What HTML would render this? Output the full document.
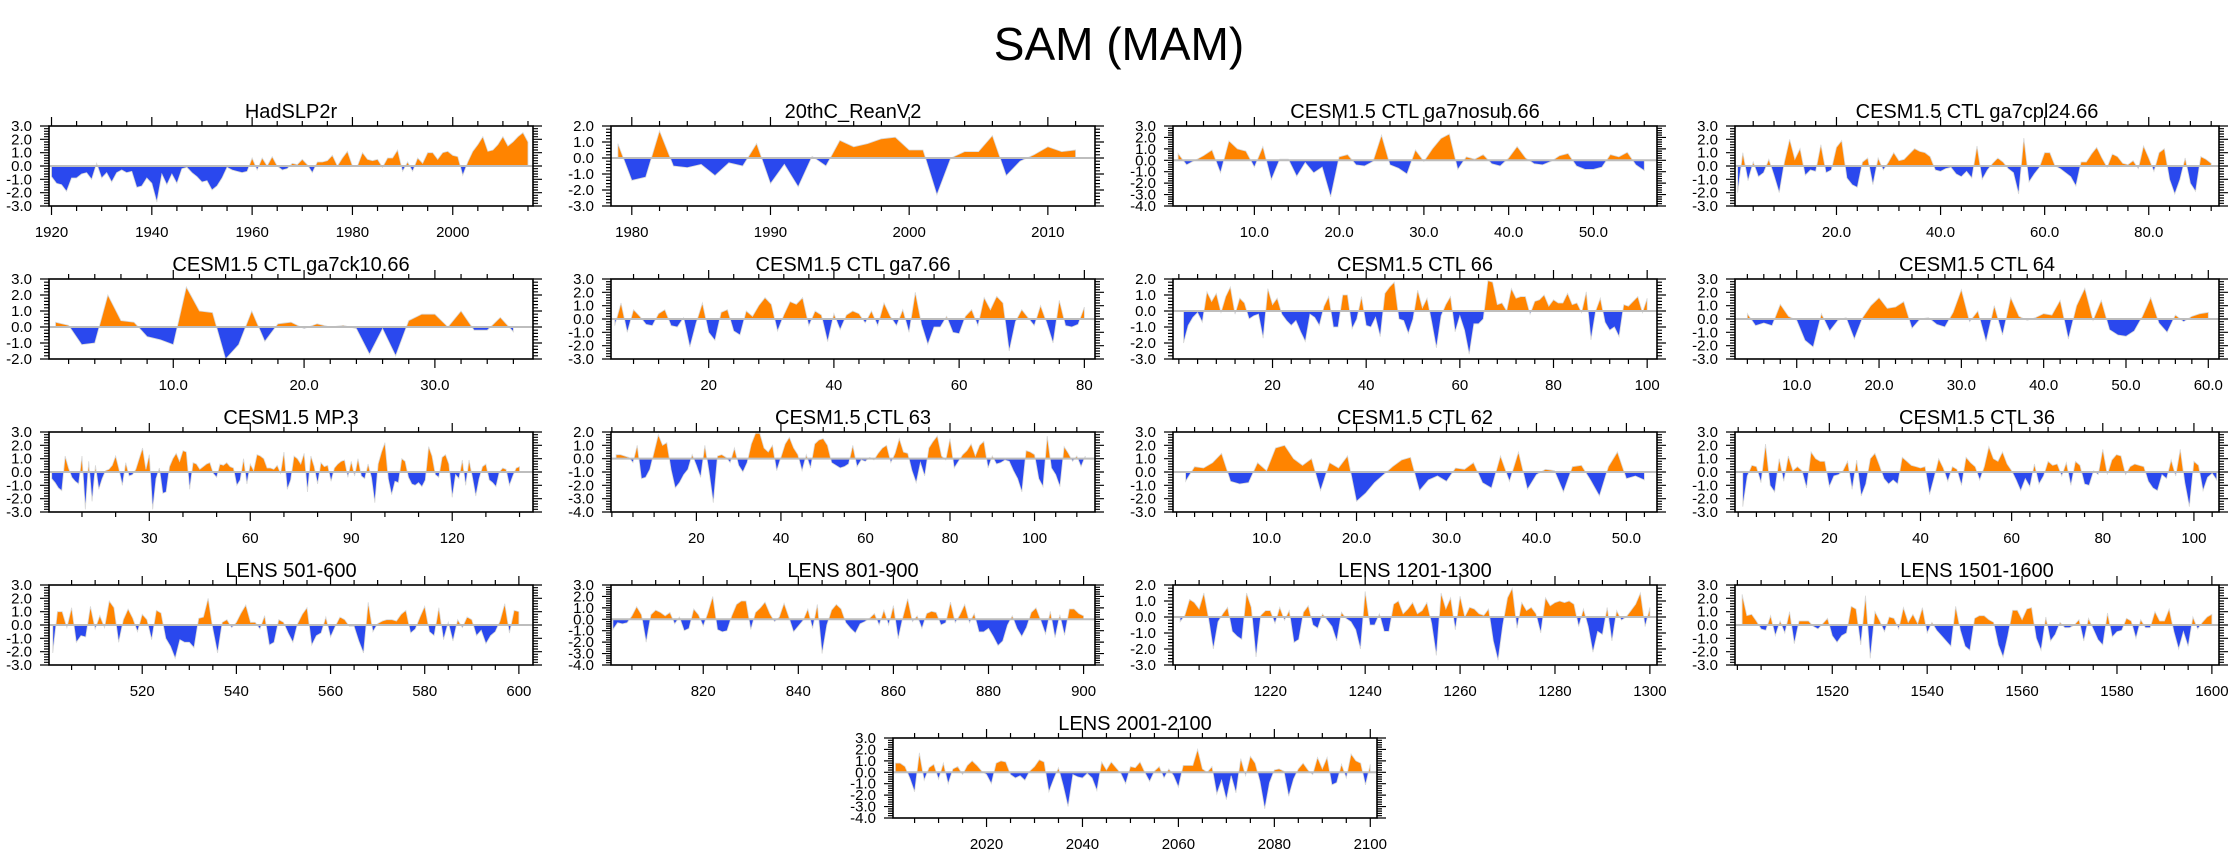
<!DOCTYPE html>
<html><head><meta charset="utf-8"><title>SAM (MAM)</title>
<style>
html,body{margin:0;padding:0;background:#fff;}
svg{display:block;font-family:"Liberation Sans",Arial,sans-serif;}
</style></head>
<body>
<svg id="chart" xmlns="http://www.w3.org/2000/svg" width="2238" height="856" viewBox="0 0 2238 856">
<rect x="0" y="0" width="2238" height="856" fill="#fff"/>
<text x="1119" y="60" text-anchor="middle" font-size="46" fill="#000">SAM (MAM)</text>
<g id="panels"></g>
</svg>
<script>
const titles=["HadSLP2r","20thC_ReanV2","CESM1.5 CTL ga7nosub.66","CESM1.5 CTL ga7cpl24.66","CESM1.5 CTL ga7ck10.66","CESM1.5 CTL ga7.66","CESM1.5 CTL 66","CESM1.5 CTL 64","CESM1.5 MP.3","CESM1.5 CTL 63","CESM1.5 CTL 62","CESM1.5 CTL 36","LENS 501-600","LENS 801-900","LENS 1201-1300","LENS 1501-1600","LENS 2001-2100"];
const startX=[1920,1979,1,1,1,5,1,4,1,1,1,1,501,801,1201,1501,2001];
const xDomains=[[1919.5,2016],[1978.5,2013.4],[0.4,57.5],[0.5,93.5],[0.5,37.5],[4.4,81.7],[-1.25,102.1],[2.5,61.3],[0.2,144],[-0.2,114.3],[-0.4,53.4],[-0.7,105.5],[500.2,603],[800.6,902.4],[1199.5,1301.5],[1499.5,1601.5],[2000.5,2101.4]];
const yRanges=[[-3,3],[-3,2],[-4,3],[-3,3],[-2,3],[-3,3],[-3,2],[-3,3],[-3,3],[-4,2],[-3,3],[-3,3],[-3,3],[-4,3],[-3,2],[-3,3],[-4,3]];
const xMajorTicks=[[1920,1940,1960,1980,2000],[1980,1990,2000,2010],[10,20,30,40,50],[20,40,60,80],[10,20,30],[20,40,60,80],[20,40,60,80,100],[10,20,30,40,50,60],[30,60,90,120],[20,40,60,80,100],[10,20,30,40,50],[20,40,60,80,100],[520,540,560,580,600],[820,840,860,880,900],[1220,1240,1260,1280,1300],[1520,1540,1560,1580,1600],[2020,2040,2060,2080,2100]];
const xMinorStep=[5,2,2,4,2,4,4,2,10,5,2,4,5,5,5,5,5];
const xLabelDecimals=[0,0,1,1,1,0,0,1,0,0,1,0,0,0,0,0,0];

const s1=[-0.8,-1.3,-1.4,-1.9,-0.9,-0.9,-0.6,-0.5,-1.0,0.2,-0.9,-0.5,-1.2,-0.5,-0.3,-0.5,-0.4,-1.6,-1.5,-0.9,-1.3,-2.7,-0.6,-1.4,-0.6,-1.3,-0.2,-0.1,-0.5,-0.8,-1.2,-1.1,-1.8,-1.5,-0.9,-0.1,-0.3,-0.4,-0.5,-0.4,0.6,-0.3,0.6,0.0,0.7,0.0,-0.3,-0.2,0.2,0.1,0.5,0.1,-0.5,0.3,0.3,0.4,0.8,0.0,0.6,1.1,0.0,0.0,1.0,0.5,0.4,0.5,-0.1,0.6,0.6,1.2,-0.4,0.3,-0.4,0.6,0.2,1.0,1.0,0.5,1.0,1.1,0.8,0.7,-0.7,0.3,1.1,1.6,2.2,1.1,1.2,1.6,2.2,1.5,1.8,2.2,2.5,1.8];
const s2=[0.9,-1.4,-1.2,1.7,-0.5,-0.6,-0.4,-1.1,-0.3,-0.5,0.9,-1.6,-0.4,-1.8,0.1,-0.5,1.1,0.7,0.9,1.2,1.3,0.5,0.5,-2.3,0.0,0.4,0.4,1.4,-1.1,-0.2,0.2,0.7,0.4,0.5];
const s3=[0.6,-0.4,0.0,0.4,0.9,-1.1,1.7,1.0,0.8,-0.6,1.2,-1.7,0.1,0.1,-1.4,-0.2,-1.1,-0.6,-3.2,0.3,0.5,-0.4,-0.5,-0.1,2.2,-0.4,-0.7,-1.2,0.9,-0.1,1.0,1.9,2.3,-0.8,0.3,0.1,0.5,-0.3,-0.5,0.2,1.2,0.2,-0.3,-0.4,-0.1,0.4,0.6,-0.5,-0.8,-0.8,-0.6,0.5,0.3,0.7,-0.4,-0.9];
const s4=[-2.0,1.0,-1.1,0.3,-0.8,-0.5,0.5,-0.7,-2.0,0.3,2.0,0.5,1.3,-0.7,-0.3,-0.4,1.6,-0.5,-0.3,1.4,1.9,-0.9,-1.4,-1.6,0.3,0.6,-1.4,0.6,-0.3,0.3,1.0,0.4,0.5,0.9,1.3,1.1,1.0,0.7,-0.3,-0.4,-0.2,-0.1,-0.6,-0.8,-0.4,-0.9,1.5,-1.0,-0.3,0.2,0.6,0.3,-0.2,-0.5,-2.1,2.1,-1.2,-0.6,-0.1,1.0,1.0,0.0,-0.2,-0.5,-0.8,-1.5,0.3,0.3,0.9,1.4,0.6,-0.1,0.9,0.7,0.2,0.1,0.4,-0.2,1.5,0.6,-0.4,1.0,1.3,-1.0,-2.1,-1.0,0.6,-1.3,-1.9,0.7,0.5,0.2];
const s5=[0.3,0.1,-1.1,-1.0,2.0,0.4,0.3,-0.6,-0.8,-1.1,2.5,1.0,0.9,-2.0,-1.1,1.0,-0.9,0.2,0.3,-0.1,0.2,0.0,0.1,-0.1,-1.7,-0.1,-1.8,0.4,0.8,0.8,0.0,1.0,-0.2,-0.2,0.6,-0.3];
const s6=[-0.5,1.2,-1.0,0.7,0.2,-0.4,-0.5,0.4,0.7,-0.5,-0.6,0.1,-2.1,-0.3,1.2,-1.0,-1.6,0.5,0.7,-0.9,-1.2,0.6,0.2,1.0,1.6,1.1,-0.9,0.3,1.3,1.1,1.6,-0.5,0.6,0.3,-1.7,0.4,-0.8,0.3,0.6,0.4,-0.3,0.6,-0.5,1.2,0.2,-0.5,0.7,-1.0,2.0,-0.4,-1.9,-0.6,-0.6,0.2,-1.0,-1.1,0.2,0.7,-0.5,1.6,0.7,1.7,1.2,-2.4,-0.2,0.7,0.1,-0.5,1.0,-0.3,-1.8,1.4,-0.5,-0.6,-0.4,0.9];
const s7=[-2.0,-0.9,-0.4,-0.1,-0.7,1.2,0.6,1.1,-0.1,0.9,1.5,-0.2,0.8,0.5,-0.5,-0.3,-0.2,-1.7,1.4,0.4,0.8,-0.2,-0.6,-0.9,-0.6,-1.3,-1.9,-0.2,-0.4,-0.9,0.3,0.9,-1.0,-1.0,1.0,1.0,-1.1,-0.5,0.9,-0.9,-1.0,-0.4,-1.6,1.1,1.5,1.8,-0.5,-0.6,-1.4,-0.5,1.3,0.2,0.8,-0.7,-2.3,-0.3,0.4,0.9,-1.3,-0.3,-1.2,-2.7,-0.8,-0.8,-0.5,1.9,1.8,0.4,0.5,0.0,1.4,0.8,0.9,0.9,-0.2,0.6,0.7,1.0,0.3,0.7,0.5,0.5,1.1,0.4,0.5,-0.1,1.2,-1.8,0.0,0.8,-0.7,-1.2,-1.0,-1.6,0.4,0.3,0.6,0.9,-0.1,0.8];
const s8=[0.4,-0.5,-0.3,-0.5,1.1,0.2,-0.1,-1.6,-2.1,0.4,-0.9,-0.1,0.1,-1.5,0.1,1.0,1.6,0.8,0.9,1.3,-0.7,0.0,0.1,-0.4,-0.6,0.5,2.2,-0.2,0.6,-1.7,1.0,-1.2,1.6,0.2,-0.1,0.1,0.4,0.3,1.4,-1.5,1.0,2.3,-0.1,1.4,-0.8,-1.2,-1.3,-0.9,0.2,1.6,-0.3,-1.0,0.3,-0.2,0.2,0.4,0.5];
const s9=[-0.5,-0.8,-1.2,-1.4,1.2,0.3,-0.4,-0.7,-0.9,1.2,-2.8,0.8,-2.2,0.5,-1.3,-0.5,0.1,0.2,0.5,1.2,0.2,-1.0,0.7,-0.3,-0.2,0.2,1.0,1.8,0.2,1.3,-2.8,-0.5,0.3,-1.6,-1.5,0.4,1.0,1.4,0.8,1.6,1.5,-1.3,0.7,0.6,0.2,0.4,0.6,0.7,-0.1,-0.4,0.6,0.5,0.7,0.4,0.3,-1.0,-0.6,1.0,-0.9,0.6,0.1,1.3,1.2,1.0,0.3,0.3,0.2,0.5,-0.1,1.5,-1.3,-0.6,1.2,1.0,0.6,1.4,-1.5,1.2,0.4,-0.9,0.7,0.4,0.5,-0.7,0.3,0.6,0.8,0.9,-0.4,0.8,-0.3,1.0,-0.3,-0.5,0.6,-0.4,-2.3,0.6,1.5,2.2,-0.5,-1.7,-0.7,-0.8,1.0,0.8,-0.4,-0.9,-1.0,-0.8,-1.1,-0.6,1.9,1.2,-0.2,-0.4,1.1,1.3,0.6,-1.9,-0.2,-0.5,0.9,-1.0,0.9,-0.4,-1.8,-0.5,0.4,0.6,-0.6,-0.8,-1.1,0.0,0.3,0.2,-1.0,-0.3,0.3,0.4];
const s10=[0.3,0.3,0.2,0.1,-0.3,1.0,-1.5,-1.4,-0.8,0.5,1.8,1.0,1.2,-0.8,-2.2,-1.8,-1.2,-0.8,0.3,-0.5,-1.4,1.0,-1.0,-3.3,0.2,0.3,0.1,-0.3,0.8,-0.5,-1.0,-0.3,1.1,1.9,1.9,0.8,0.5,1.0,-0.9,0.1,1.1,1.6,0.8,0.3,-0.9,0.3,-0.7,1.1,1.4,1.5,1.0,-0.3,-0.5,-0.7,-0.6,-0.4,1.0,-0.6,-0.1,-0.2,0.1,-0.1,0.4,0.8,1.0,-0.3,0.4,1.5,0.5,0.4,-0.9,-1.8,-0.3,-1.3,0.8,1.3,1.7,0.2,-0.1,1.5,-0.7,-0.2,0.3,0.6,1.1,0.2,1.0,1.3,-0.7,0.2,-0.4,-0.3,-0.1,-0.2,-0.9,-1.5,-2.5,0.6,0.5,0.3,-1.5,-2.1,1.7,-0.7,-1.2,-2.1,0.9,0.4,-0.2,0.2,-0.6,0.2];
const s11=[-0.7,0.4,0.3,0.7,1.4,-0.7,-0.9,-0.8,0.7,0.1,1.8,2.0,1.0,0.5,1.0,-1.4,0.7,0.3,1.2,-2.2,-1.6,-0.8,-0.2,0.4,0.9,1.1,-1.4,-0.6,-0.3,-0.7,0.3,0.2,0.7,-0.8,-1.2,1.2,-0.7,1.5,-1.3,-0.2,0.2,0.1,-1.5,0.4,0.5,-0.6,-1.8,0.4,1.5,-0.5,-0.3,-0.6];
const s12=[-2.6,-0.3,0.5,0.4,-0.8,2.1,-1.0,-1.5,1.0,-0.7,1.2,0.1,0.4,0.1,-1.2,1.5,1.0,0.8,0.8,-1.1,-0.3,-0.2,0.1,0.8,-1.3,0.9,-1.8,-0.9,1.0,1.4,0.5,-0.5,-0.9,-0.6,-0.9,1.1,0.8,0.5,0.4,0.3,0.4,-1.7,-0.4,1.0,0.3,-0.7,0.4,0.2,-1.0,1.1,0.7,0.4,-0.6,0.4,1.9,1.0,0.8,1.5,0.6,0.1,-0.6,-1.4,-0.5,-1.1,0.6,-0.9,-0.3,0.8,0.5,0.6,-0.3,0.7,-1.0,0.8,0.5,-0.9,-1.0,0.1,-0.2,1.7,-0.2,0.9,1.3,1.2,-0.2,0.4,0.6,0.5,0.4,-0.7,-1.2,-1.4,-0.2,-0.5,0.9,-0.3,1.7,-0.8,-2.6,0.8,0.5,-1.4,-0.4,-0.1,-0.6];
const s13=[-2.1,1.0,1.0,-0.2,1.3,-1.3,-0.8,-0.9,1.4,-0.3,0.7,-0.2,1.8,1.3,-1.3,0.4,1.2,0.5,-0.5,0.8,0.4,-1.1,1.1,0.9,-1.0,-1.6,-2.5,-1.1,-1.3,-1.3,-1.7,0.5,0.6,2.0,-0.3,-2.1,0.2,0.4,-0.2,0.2,0.9,1.5,0.2,0.2,-0.3,0.7,-1.5,-1.3,0.4,0.2,-0.6,-1.3,0.1,0.8,1.3,-1.5,-0.8,-0.6,0.6,-0.9,-0.1,0.6,0.4,-0.1,-0.1,-1.2,-2.1,1.7,-0.5,0.1,0.3,0.4,0.4,0.3,0.8,1.1,-0.6,-0.3,0.6,1.4,-0.5,-0.8,1.3,-1.1,0.2,-1.2,0.4,-0.2,0.6,0.4,-0.8,-0.4,-1.4,-0.8,-0.5,0.3,1.6,-0.6,1.1,1.0];
const s14=[-0.9,-0.3,-0.4,-0.3,0.3,1.1,0.4,-2.0,0.4,0.8,0.6,0.3,0.6,-0.4,0.2,-1.0,-0.8,0.9,0.4,-0.6,0.6,2.0,-0.9,-1.1,-1.0,0.3,1.3,1.6,1.6,-0.9,0.6,1.0,1.5,0.5,-0.2,0.2,1.4,0.2,-1.1,-0.6,-0.1,0.9,-0.8,1.3,-3.0,-0.5,0.8,1.3,0.9,-0.3,-0.8,-1.2,-0.4,-0.2,0.1,0.5,-0.5,0.8,-0.5,1.2,-1.7,0.2,1.8,-0.2,0.3,-0.8,0.5,0.7,0.6,-0.5,-0.3,1.5,-0.3,0.4,1.3,-0.3,0.5,-1.1,-1.1,-0.8,-1.5,-2.3,-1.9,-0.5,0.3,-0.8,-1.5,-0.7,0.6,1.0,-0.1,-1.3,0.7,-1.6,0.4,-1.4,0.9,0.9,0.5,0.3];
const s15=[-0.3,0.1,1.1,0.9,0.5,1.5,-0.1,-2.0,-0.3,0.2,0.6,-0.9,-1.2,-1.4,1.5,0.6,-2.5,0.1,0.4,0.4,-0.4,0.6,-0.2,0.4,-1.6,-1.4,0.3,0.7,-0.5,-0.7,0.2,-0.2,-0.6,-1.5,0.3,-0.1,-0.3,-0.8,-2.0,1.6,-0.5,-0.5,0.2,-0.9,-0.9,0.8,1.0,0.2,0.5,0.9,0.2,0.4,0.9,-0.4,-2.4,1.5,0.5,1.2,-0.8,1.3,0.0,0.6,0.5,0.2,0.1,0.5,-1.5,-2.7,-0.5,1.2,1.8,-0.7,0.9,0.4,0.6,0.2,-1.0,1.2,0.7,0.9,1.0,0.9,1.0,0.8,-0.6,0.5,-0.6,-2.2,-0.9,-1.1,0.6,-1.5,0.4,-0.2,0.0,0.4,0.8,1.5,-0.6,0.6];
const s16=[2.3,0.7,0.8,0.3,-0.3,-0.4,0.7,-0.8,0.3,-0.6,1.0,-1.4,0.3,0.3,0.3,-0.1,-0.3,0.1,0.5,-0.8,-1.3,-0.8,-0.6,1.4,1.2,-1.5,2.2,-2.5,1.0,0.3,-0.5,0.6,0.5,-0.3,1.3,0.2,0.8,0.1,1.3,-0.6,0.2,-0.4,-0.8,-1.2,-1.6,1.4,-0.4,-1.6,-1.9,0.5,0.7,0.7,0.4,0.2,-1.5,-2.4,-0.8,1.1,1.1,0.4,1.2,1.3,-1.0,-1.9,0.6,-1.2,-0.7,0.2,-0.2,-0.2,0.0,0.4,-1.2,0.5,-0.3,-1.1,-1.5,0.9,-0.9,-0.5,-0.4,0.5,0.3,-1.0,0.4,-0.2,-0.2,1.0,0.3,0.3,1.2,-0.5,-1.8,-0.5,-1.6,0.6,-0.3,0.2,0.6,0.8];
const s17=[0.8,0.8,0.5,-0.5,-1.7,1.7,-0.7,0.4,0.7,-0.6,0.8,-1.0,0.3,0.5,-0.2,0.6,1.0,0.6,0.1,-0.2,-1.0,0.8,1.0,0.9,-0.2,-0.5,-0.3,-0.7,0.1,0.5,1.1,0.9,-1.7,-0.6,0.4,-1.2,-3.0,-0.2,-0.4,-0.5,-0.1,-0.5,-1.6,0.9,0.2,0.9,0.4,-0.1,-1.0,0.5,0.4,0.9,0.0,-0.8,0.1,0.5,-0.5,0.3,-0.3,-1.3,0.6,0.6,0.6,2.0,0.3,0.0,0.5,-1.9,-0.7,-2.4,-0.3,-1.8,1.2,-0.3,1.4,0.8,-0.8,-3.2,-0.9,0.2,0.3,0.1,-2.1,-0.6,0.3,0.8,0.2,-0.2,1.3,0.3,1.3,-1.1,-0.9,0.7,-0.5,1.6,1.0,0.8,-1.1,0.7];
const seriesValues=[s1,s2,s3,s4,s5,s6,s7,s8,s9,s10,s11,s12,s13,s14,s15,s16,s17];

const NS="http://www.w3.org/2000/svg";
const PW=484, PH=80;
const colLeft=[49,611,1173,1735];
const rowTop=[126,279,432,585,738];
const ORANGE="#ff8400", BLUE="#2a48ee";
const root=document.getElementById('panels');

function mk(tag,attrs,parent){
  const e=document.createElementNS(NS,tag);
  for(const k in attrs) e.setAttribute(k,attrs[k]);
  parent.appendChild(e);
  return e;
}

function drawPanel(p){
  const left = p<16 ? colLeft[p%4] : 893;
  const top = p<16 ? rowTop[Math.floor(p/4)] : rowTop[4];
  const [xmin,xmax]=xDomains[p];
  const [ymin,ymax]=yRanges[p];
  const vals=seriesValues[p];
  const x=v=>left+(v-xmin)/(xmax-xmin)*PW;
  const y=v=>top+(ymax-v)/(ymax-ymin)*PH;
  const g=mk('g',{},root);
  
  
  const slug='p'+p;

  const t=mk('text',{x:left+PW/2,y:top-8,'text-anchor':'middle','font-size':20,fill:'#000'},g);
  t.textContent=titles[p];
  
  

  const y0=y(0);
  const defs=mk('defs',{},g);
  const cpA=mk('clipPath',{id:slug+'a'},defs);
  mk('rect',{x:left,y:top,width:PW,height:y0-top},cpA);
  const cpB=mk('clipPath',{id:slug+'b'},defs);
  mk('rect',{x:left,y:y0,width:PW,height:top+PH-y0},cpB);

  let d='M'+x(startX[p]).toFixed(2)+','+y0.toFixed(2);
  vals.forEach((v,i)=>{ d+=' L'+x(startX[p]+i).toFixed(2)+','+y(v).toFixed(2); });
  d+=' L'+x(startX[p]+vals.length-1).toFixed(2)+','+y0.toFixed(2)+' Z';
  const pos=mk('path',{d:d,fill:ORANGE,stroke:'#d8d8d8','stroke-width':0.8,'clip-path':'url(#'+slug+'a)'},g);
  
  
  const neg=mk('path',{d:d,fill:BLUE,stroke:'#d8d8d8','stroke-width':0.8,'clip-path':'url(#'+slug+'b)'},g);
  
  

  const zl=mk('line',{x1:left,x2:left+PW,y1:y0,y2:y0,stroke:'#bdbdbd','stroke-width':2},g);
  
  

  const fr=mk('rect',{x:left,y:top,width:PW,height:PH,fill:'none',stroke:'#000','stroke-width':1.6},g);
  
  

  let td='';
  for(let k=Math.round(ymin*5);k<=Math.round(ymax*5);k++){
    const v=k/5, yy=y(v).toFixed(2), major=(k%5===0), L=major?9:5;
    td+='M'+left+','+yy+'h-'+L+'M'+(left+PW)+','+yy+'h'+L;
  }
  const step=xMinorStep[p];
  const firstMinor=Math.ceil(xmin/step)*step;
  for(let v=firstMinor; v<=xmax; v+=step){
    if(xMajorTicks[p].includes(v)) continue;
    const xx=x(v).toFixed(2);
    td+='M'+xx+','+top+'v-5M'+xx+','+(top+PH)+'v5';
  }
  xMajorTicks[p].forEach(v=>{
    const xx=x(v).toFixed(2);
    td+='M'+xx+','+top+'v-9M'+xx+','+(top+PH)+'v9';
  });
  const ticks=mk('path',{d:td,stroke:'#000','stroke-width':1.2,fill:'none'},g);
  
  

  for(let v=ymin; v<=ymax; v++){
    const lab=mk('text',{x:left-17,y:y(v)+5,'text-anchor':'end','font-size':15,fill:'#000'},g);
    lab.textContent=v.toFixed(1);
    
    
  }
  xMajorTicks[p].forEach(v=>{
    const lab=mk('text',{x:x(v),y:top+PH+31,'text-anchor':'middle','font-size':15,fill:'#000'},g);
    lab.textContent=v.toFixed(xLabelDecimals[p]);
    
    
  });
}
for(let p=0;p<titles.length;p++) drawPanel(p);
</script>
</body></html>
